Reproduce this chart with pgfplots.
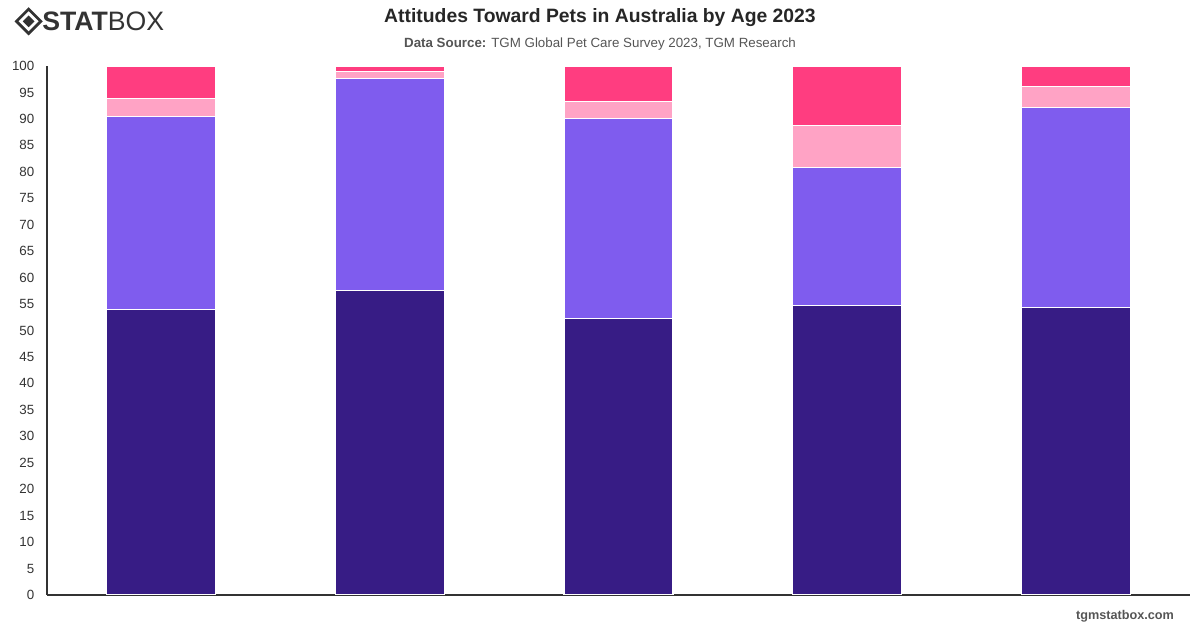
\documentclass[border=0pt]{standalone}
\usepackage{pgfplots}
\pgfplotsset{compat=1.18}
\usepackage{fontspec}
\setmainfont{Liberation Sans}
\definecolor{cA}{HTML}{371C85}
\definecolor{cB}{HTML}{7F5CEE}
\definecolor{cC}{HTML}{FFA3C5}
\definecolor{cD}{HTML}{FF3D80}
\definecolor{txt}{HTML}{333333}
\definecolor{sub}{HTML}{555555}
\begin{document}
\begin{tikzpicture}
\path[use as bounding box] (0,0) rectangle (900pt,471pt);
\begin{axis}[
  at={(35.25pt,24.75pt)}, anchor=south west,
  scale only axis, width=857.25pt, height=396.75pt,
  ybar stacked, bar width=81.75pt,
  xmin=-0.5, xmax=4.5, ymin=0, ymax=100,
  xtick=\empty,
  ytick={0,5,...,100},
  axis x line*=bottom, axis y line*=left,
  axis line style={-, draw=txt, line width=0.8pt},
  major tick length=0pt,
  yticklabel style={font=\fontsize{10}{12}\selectfont, text=txt, xshift=-6pt},
  /pgf/number format/assume math mode=true,
  every axis plot/.append style={draw=white, line width=0.8pt},
]
\addplot[fill=cA] coordinates {(0,53.9) (1,57.6) (2,52.2) (3,54.8) (4,54.3)};
\addplot[fill=cB] coordinates {(0,36.6) (1,40.0) (2,37.9) (3,26.1) (4,37.9)};
\addplot[fill=cC] coordinates {(0,3.3) (1,1.4) (2,3.2) (3,7.9) (4,4.0)};
\addplot[fill=cD] coordinates {(0,6.2) (1,1.0) (2,6.7) (3,11.2) (4,3.8)};
\end{axis}
% title
\node[font=\bfseries\fontsize{14.5}{16}\selectfont, text=black!85] at (450pt,458pt) {Attitudes Toward Pets in Australia by Age 2023};
\node[font=\fontsize{10}{12}\selectfont, text=sub] at (450pt,438pt) {\textbf{Data Source:} TGM Global Pet Care Survey 2023, TGM Research};
% logo
\begin{scope}[shift={(21.5pt,455pt)}]
\fill[txt,rotate=45] (-7.5pt,-7.5pt) rectangle (7.5pt,7.5pt);
\fill[white,rotate=45] (-5.3pt,-5.3pt) rectangle (5.3pt,5.3pt);
\fill[txt,rotate=45] (-3.1pt,-3.1pt) rectangle (3.1pt,3.1pt);
\end{scope}
\node[anchor=west, inner sep=0pt, text=txt, font=\fontsize{20}{22}\selectfont] at (31.5pt,455pt) {\textbf{STAT}BOX};
% footer
\node[anchor=east, font=\bfseries\fontsize{9.5}{11}\selectfont, text=sub] at (884pt,9pt) {tgmstatbox.com};
\end{tikzpicture}
\end{document}
